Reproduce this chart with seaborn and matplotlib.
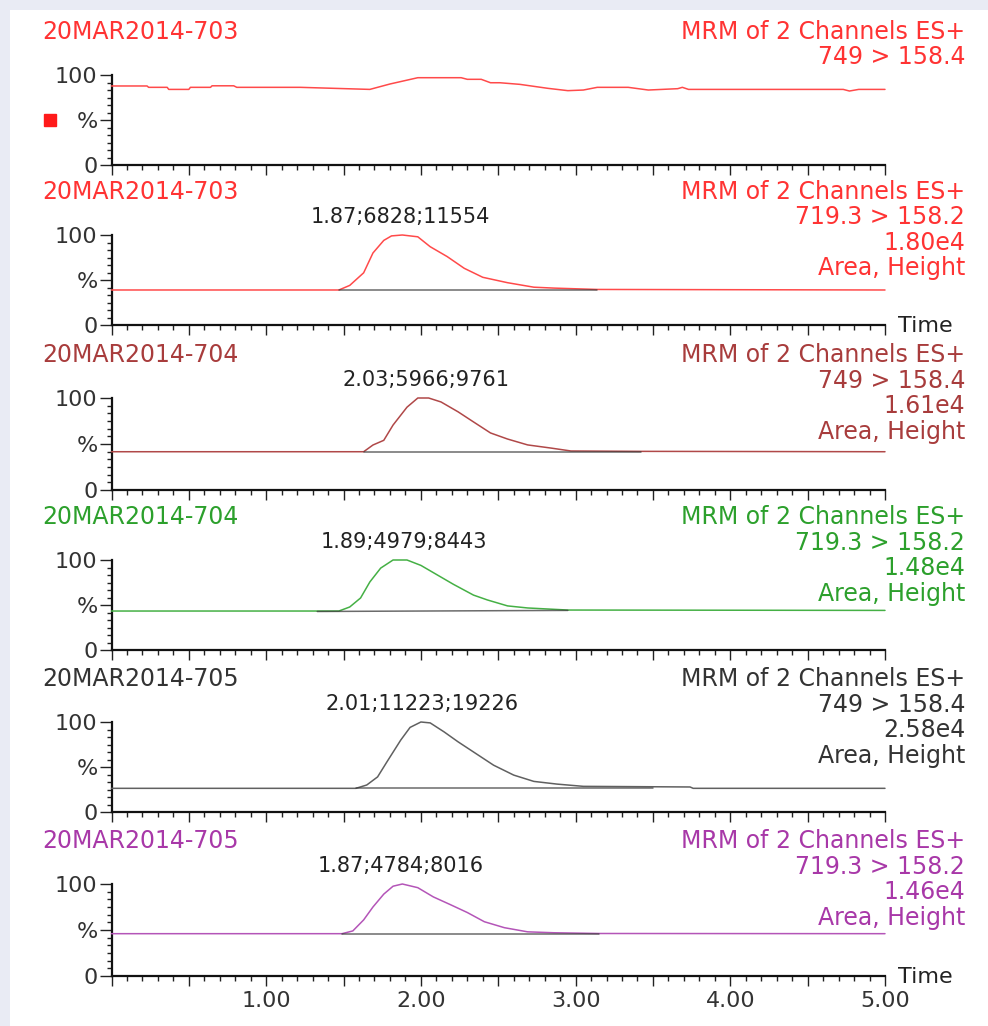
import pandas as pd
import matplotlib.pyplot as plt
import seaborn as sns
from matplotlib.ticker import MultipleLocator, FixedLocator, AutoMinorLocator, FuncFormatter
from matplotlib.patches import Rectangle

# ---- data (time in min, relative intensity in %) ----
titles = ["20MAR2014-703", "20MAR2014-703", "20MAR2014-704",
          "20MAR2014-704", "20MAR2014-705", "20MAR2014-705"]
channels = ["749 > 158.4", "719.3 > 158.2", "749 > 158.4",
            "719.3 > 158.2", "749 > 158.4", "719.3 > 158.2"]
intensity = [None, "1.80e4", "1.61e4", "1.48e4", "2.58e4", "1.46e4"]
peak_labels = [None, "1.87;6828;11554", "2.03;5966;9761",
               "1.89;4979;8443", "2.01;11223;19226", "1.87;4784;8016"]
peak_rt = [None, 1.87, 2.03, 1.89, 2.01, 1.87]
colors = ["#ff3333", "#ff3333", "#a83c3c", "#2ca02c", "#333333", "#a838a8"]
line_colors = ["#ff4a4a", "#ff4a4a", "#b04848", "#45b045", "#606060", "#b455b8"]

t1 = [0.00, 0.23, 0.24, 0.36, 0.37, 0.50, 0.51, 0.64, 0.65, 0.79, 0.81, 1.22, 1.67,
      1.80, 1.98, 2.26, 2.30, 2.39, 2.45, 2.51, 2.64, 2.82, 2.95, 3.05, 3.14, 3.34,
      3.47, 3.66, 3.69, 3.73, 4.73, 4.77, 4.83, 5.00]
y1 = [87.8, 87.8, 86.3, 86.3, 84.0, 84.0, 86.3, 86.3, 88.0, 88.0, 86.3, 86.3, 84.0,
      90.0, 97.0, 97.0, 95.2, 95.2, 91.4, 91.4, 89.6, 85.2, 82.6, 83.3, 86.3, 86.3,
      83.3, 84.8, 86.3, 84.0, 84.0, 82.2, 84.0, 84.0]

t2 = [0.00, 1.47, 1.54, 1.63, 1.69, 1.76, 1.81, 1.88, 1.98, 2.06, 2.17, 2.28, 2.40,
      2.56, 2.73, 2.86, 3.14, 5.00]
y2 = [38.9, 38.9, 44, 58, 80, 94, 99, 100, 98, 87, 76, 63, 53, 47, 42, 41, 39.5, 38.9]

t3 = [0.00, 1.63, 1.69, 1.76, 1.82, 1.91, 1.98, 2.05, 2.13, 2.24, 2.34, 2.45, 2.56,
      2.69, 2.84, 2.97, 3.42, 5.00]
y3 = [41.6, 41.6, 48.9, 54, 70.6, 90, 100, 100, 95.7, 85, 74, 62, 55.4, 49, 45.6,
      42.4, 42, 41.6]

t4 = [0.00, 1.33, 1.47, 1.54, 1.61, 1.67, 1.74, 1.82, 1.91, 2.00, 2.11, 2.21, 2.34,
      2.43, 2.56, 2.69, 2.95, 5.00]
y4 = [43.3, 43.3, 43.3, 47.8, 57.8, 75.6, 91, 100, 100, 94, 83, 73, 61, 55.6, 49,
      46.7, 44.4, 44.0]

t5 = [0.00, 1.58, 1.65, 1.72, 1.78, 1.87, 1.93, 2.00, 2.06, 2.15, 2.24, 2.34, 2.47,
      2.60, 2.73, 2.88, 3.05, 3.74, 3.76, 5.00]
y5 = [26.3, 26.3, 30, 39, 55.6, 80, 94, 100, 99, 89, 78, 66.7, 52, 41, 34, 31, 28.5,
      27.8, 26.3, 26.3]

t6 = [0.00, 1.49, 1.56, 1.63, 1.69, 1.76, 1.82, 1.88, 1.98, 2.08, 2.19, 2.30, 2.41,
      2.54, 2.69, 2.86, 3.15, 5.00]
y6 = [46.0, 46.0, 49, 61, 75, 89, 97.6, 100, 96, 86, 77.6, 69, 59, 52.5, 48, 47,
      46.2, 46.0]

# integration baselines: (start time, start %, end time, end %)
integ = [None, (1.47, 38.9, 3.14, 38.9), (1.63, 41.6, 3.42, 41.6),
         (1.33, 42.8, 2.95, 44.0), (1.58, 26.3, 3.50, 26.3), (1.49, 46.0, 3.15, 46.0)]

times = [t1, t2, t3, t4, t5, t6]
values = [y1, y2, y3, y4, y5, y6]

# ---- layout (pixel rows of the 0% and 100% lines in each panel) ----
W, H = 988, 1026
y_zero = [165, 325, 490, 650, 812, 976]
y_full = [75, 235, 398, 560, 722, 884]
x_left, x_right = 111.5, 885

sns.set_style("ticks")
plt.rcParams["font.family"] = ["DejaVu Sans"]
fig = plt.figure(figsize=(W / 100, H / 100), dpi=100)
fig.patch.set_facecolor("#e9ebf4")
fig.patches.append(Rectangle((10 / W, 0), 1, 1 - 10 / H, transform=fig.transFigure,
                             facecolor="white", edgecolor="none", zorder=-5))

for i in range(6):
    ax = fig.add_axes([x_left / W, 1 - y_zero[i] / H,
                       (x_right - x_left) / W, (y_zero[i] - y_full[i]) / H])
    ax.set_facecolor("none")
    df = pd.DataFrame({"time": times[i], "pct": values[i]})
    sns.lineplot(data=df, x="time", y="pct", ax=ax, color=line_colors[i],
                 linewidth=1.1, clip_on=False, zorder=3)
    if integ[i] is not None:
        a, b, c, d = integ[i]
        ax.plot([a, c], [b, d], color="#3a3a3a", linewidth=1.1, alpha=0.75, zorder=4)
        ax.annotate(peak_labels[i], xy=(peak_rt[i], 100), xytext=(0, 6),
                    textcoords="offset points", ha="center", va="bottom",
                    fontsize=15, color="#222222")

    ax.set_xlim(0, 5)
    ax.set_ylim(0, 100)
    ax.set_xlabel("")
    ax.set_ylabel("")
    for s in ["top", "right"]:
        ax.spines[s].set_visible(False)
    for s in ["left", "bottom"]:
        ax.spines[s].set_linewidth(1.6)
        ax.spines[s].set_color("#111111")

    ax.xaxis.set_major_locator(MultipleLocator(0.5))
    ax.xaxis.set_minor_locator(MultipleLocator(0.1))
    if i == 5:
        ax.xaxis.set_major_formatter(FuncFormatter(
            lambda v, p: f"{v:.2f}" if abs(v - round(v)) < 1e-6 and v > 0.5 else ""))
    else:
        ax.set_xticklabels([])
    ax.yaxis.set_major_locator(FixedLocator([0, 50, 100]))
    ax.yaxis.set_minor_locator(AutoMinorLocator(6))
    ax.set_yticklabels(["0", "%", "100"])
    ax.tick_params(axis="x", which="major", length=7, width=1.0, color="#222222",
                   labelsize=16, labelcolor="#333333", pad=4)
    ax.tick_params(axis="x", which="minor", length=3.5, width=1.0, color="#222222")
    ax.tick_params(axis="y", which="major", length=9, width=1.0, color="#222222",
                   labelsize=16, labelcolor="#333333", pad=1)
    ax.tick_params(axis="y", which="minor", length=3.5, width=1.0, color="#222222")

    # header texts
    ty = 1 - (y_full[i] - 43) / H
    fig.text(42 / W, ty, titles[i], ha="left", va="center", fontsize=17, color=colors[i])
    right_lines = ["MRM of 2 Channels ES+", channels[i]]
    if intensity[i] is not None:
        right_lines += [intensity[i], "Area, Height"]
    for k, txt in enumerate(right_lines):
        fig.text(965 / W, ty - k * 25.5 / H, txt, ha="right", va="center",
                 fontsize=17, color=colors[i])

    if i in (1, 5):
        fig.text(898 / W, 1 - (y_zero[i] + 1) / H, "Time", ha="left", va="center",
                 fontsize=16, color="#222222")
    if i == 0:
        ax.plot([-0.08], [0.5], marker="s", markersize=8, color="#ff1a1a",
                transform=ax.transAxes, clip_on=False)

fig.savefig("out.png", dpi=100)
